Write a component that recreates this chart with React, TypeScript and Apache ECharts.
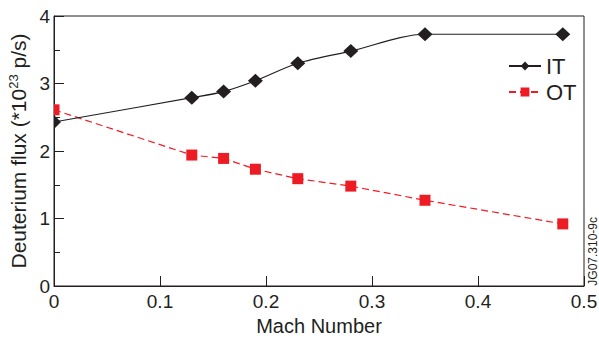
import React, { useEffect, useRef } from "react";
import * as echarts from "echarts";

const machIT = [0, 0.13, 0.16, 0.19, 0.23, 0.28, 0.35, 0.48];
const fluxIT = [2.43, 2.79, 2.88, 3.04, 3.3, 3.48, 3.73, 3.73];
const machOT = [0, 0.13, 0.16, 0.19, 0.23, 0.28, 0.35, 0.48];
const fluxOT = [2.61, 1.94, 1.89, 1.73, 1.59, 1.48, 1.27, 0.92];
const xTicks = [0, 0.1, 0.2, 0.3, 0.4, 0.5];
const yTicks = [0, 1, 2, 3, 4];

const INK = "#231f20";
const RED = "#ed1c24";
const FONT = "Liberation Sans, Arial, Helvetica, sans-serif";

export default function App() {
  const ref = useRef<HTMLDivElement>(null);
  useEffect(() => {
    if (!ref.current) return;
    const chart = echarts.init(ref.current, null, { renderer: "svg" });
    const itData = machIT.map((x, i) =>
      x === 0
        ? {
            value: [x, fluxIT[i]],
            symbol: "path://M0,0 L1,1 L0,2 Z",
            symbolSize: [7, 14],
            symbolOffset: [3.5, 0],
          }
        : { value: [x, fluxIT[i]] }
    );
    const otData = machOT.map((x, i) =>
      x === 0
        ? {
            value: [x, fluxOT[i]],
            symbol: "rect",
            symbolSize: [5.5, 11],
            symbolOffset: [2.75, 0],
          }
        : { value: [x, fluxOT[i]] }
    );
    chart.setOption({
      animation: false,
      textStyle: { fontFamily: FONT, color: INK },
      grid: {
        left: 54,
        right: 15,
        top: 16,
        bottom: 52,
        containLabel: false,
        outerBoundsMode: "none",
        show: true,
        borderColor: INK,
        borderWidth: 1,
        backgroundColor: "transparent",
      },
      legend: {
        orient: "vertical",
        left: 503,
        top: 50,
        itemWidth: 32,
        itemHeight: 11,
        itemGap: 4,
        textStyle: { fontSize: 22, color: INK, fontFamily: FONT },
        data: ["IT", "OT"],
      },
      xAxis: {
        type: "value",
        min: xTicks[0],
        max: xTicks[xTicks.length - 1],
        interval: 0.1,
        name: "Mach Number",
        nameLocation: "middle",
        nameGap: 29,
        nameTextStyle: { fontSize: 20, color: INK, fontFamily: FONT },
        axisLine: { lineStyle: { color: INK, width: 1 } },
        axisTick: { inside: true, length: 10, lineStyle: { color: INK } },
        axisLabel: {
          fontSize: 19,
          color: INK,
          margin: 6,
          fontFamily: FONT,
          formatter: (v: number) => (v === 0 ? "0" : String(+v.toFixed(1))),
        },
        splitLine: { show: false },
      },
      yAxis: {
        type: "value",
        min: yTicks[0],
        max: yTicks[yTicks.length - 1],
        interval: 1,
        name: "Deuterium flux (*10{sup|23} p/s)",
        nameLocation: "middle",
        nameRotate: 90,
        nameGap: 25,
        nameTextStyle: {
          fontSize: 21,
          color: INK,
          fontFamily: FONT,
          rich: {
            sup: {
              fontSize: 13,
              color: INK,
              fontFamily: FONT,
              verticalAlign: "top",
              padding: [0, 0, 9, 0],
            },
          },
        },
        axisLine: { lineStyle: { color: INK, width: 1 } },
        axisTick: { inside: true, length: 10, lineStyle: { color: INK } },
        minorTick: {
          show: true,
          splitNumber: 2,
          length: 6,
          lineStyle: { color: INK },
        },
        axisLabel: { fontSize: 19, color: INK, margin: 4, fontFamily: FONT },
        splitLine: { show: false },
      },
      series: [
        {
          name: "IT",
          type: "line",
          data: itData,
          smooth: 0.3,
          symbol: "diamond",
          symbolSize: [15, 14],
          lineStyle: { color: INK, width: 1.2 },
          itemStyle: { color: INK },
          z: 3,
        },
        {
          name: "OT",
          type: "line",
          data: otData,
          symbol: "rect",
          symbolSize: 11,
          lineStyle: { color: RED, width: 1.2, type: [7, 4] },
          itemStyle: { color: RED },
          z: 2,
        },
      ],
      graphic: [
        {
          type: "text",
          left: 587,
          top: 217,
          rotation: Math.PI / 2,
          style: {
            text: "JG07.310-9c",
            fontSize: 12,
            fontFamily: FONT,
            fill: INK,
          },
        },
      ],
    });
    return () => chart.dispose();
  }, []);
  return (
    <div
      ref={ref}
      style={{ position: "absolute", left: 0, top: 0, width: 599, height: 338 }}
    />
  );
}
